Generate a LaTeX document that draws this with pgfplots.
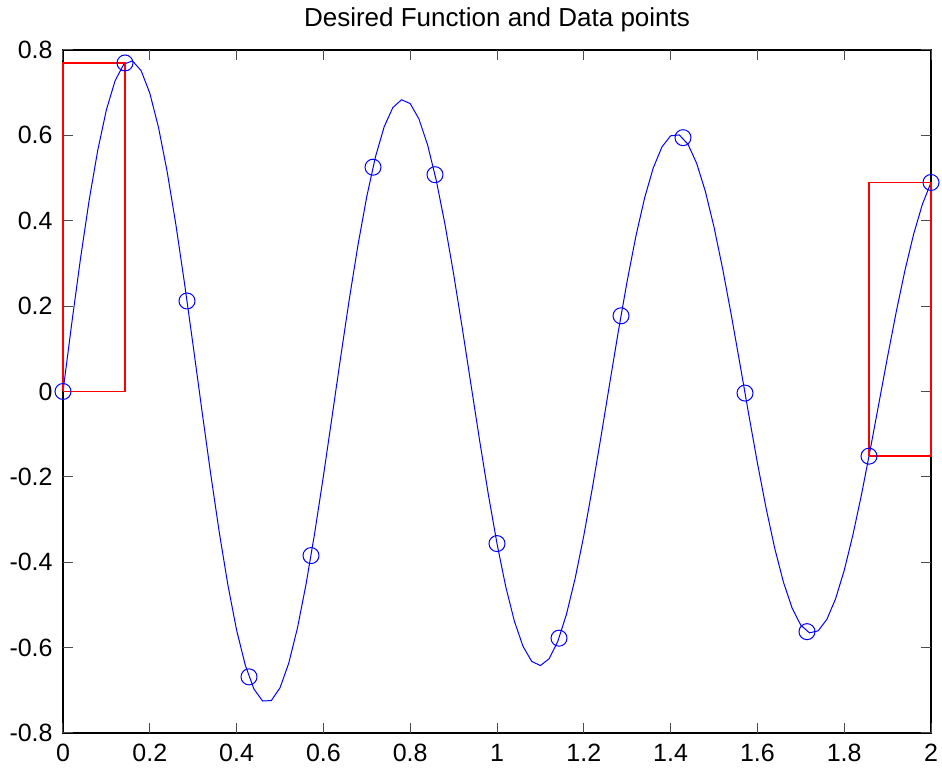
\documentclass[border=0pt]{standalone}
\usepackage{fontspec}
\setmainfont{Liberation Sans}
\usepackage{pgfplots}
\pgfplotsset{compat=1.18}
\begin{document}
\begin{tikzpicture}
\useasboundingbox (-31.5pt,-18.5pt) rectangle (439.5pt,366.5pt);
\draw[black, line width=0.6pt] (0pt,0pt) rectangle (434pt,341.5pt);
\begin{axis}[
  at={(0pt,0pt)}, anchor=south west,
  scale only axis, width=434pt, height=341.5pt,
  xmin=0, xmax=2, ymin=-0.8, ymax=0.8,
  xtick={0,0.2,0.4,0.6,0.8,1,1.2,1.4,1.6,1.8,2},
  xticklabels={0,0.2,0.4,0.6,0.8,1,1.2,1.4,1.6,1.8,2},
  ytick={-0.8,-0.6,-0.4,-0.2,0,0.2,0.4,0.6,0.8},
  yticklabels={-0.8,-0.6,-0.4,-0.2,0,0.2,0.4,0.6,0.8},
  tick align=inside, tick pos=both,
  major tick length=5pt,
  every tick/.style={black!70, line width=0.5pt},
  axis line style={draw=none},
  ticklabel style={font=\fontsize{12.5}{15}\selectfont},
  xticklabel style={anchor=base, yshift=-14.5pt, inner sep=0pt},
  yticklabel style={anchor=east, xshift=-5pt, inner sep=0pt},
  clip=false,
]
\addplot[blue, line width=0.5pt] coordinates {
(0.00,0) (0.02,0.15830) (0.04,0.30905) (0.06,0.44632) (0.08,0.56477) (0.10,0.65985)
(0.12,0.72795) (0.14,0.76659) (0.16,0.77448) (0.18,0.75154) (0.20,0.69891)
(0.22,0.61896) (0.24,0.51505) (0.26,0.39151) (0.28,0.25340) (0.30,0.10632)
(0.32,-0.04380) (0.34,-0.19099) (0.36,-0.32942) (0.38,-0.45367) (0.40,-0.55889)
(0.42,-0.64109) (0.44,-0.69715) (0.46,-0.72509) (0.48,-0.72399) (0.50,-0.69414)
(0.52,-0.63695) (0.54,-0.55493) (0.56,-0.45151) (0.58,-0.33098) (0.60,-0.19826)
(0.62,-0.05872) (0.64,0.08204) (0.66,0.21841) (0.68,0.34503) (0.70,0.45693)
(0.72,0.54978) (0.74,0.62006) (0.76,0.66514) (0.78,0.68345) (0.80,0.67447)
(0.82,0.63875) (0.84,0.57795) (0.86,0.49467) (0.88,0.39242) (0.90,0.27539)
(0.92,0.14835) (0.94,0.01642) (0.96,-0.11510) (0.98,-0.24100) (1.00,-0.35632)
(1.02,-0.45658) (1.04,-0.53789) (1.06,-0.59719) (1.08,-0.63230) (1.10,-0.64201)
(1.12,-0.62614) (1.14,-0.58552) (1.16,-0.52197) (1.18,-0.43819) (1.20,-0.33766)
(1.22,-0.22454) (1.24,-0.10338) (1.26,0.02090) (1.28,0.14338) (1.30,0.25918)
(1.32,0.36376) (1.34,0.45306) (1.36,0.52365) (1.38,0.57287) (1.40,0.59895)
(1.42,0.60103) (1.44,0.57921) (1.46,0.53457) (1.48,0.46904) (1.50,0.38539)
(1.52,0.28711) (1.54,0.17821) (1.56,0.06310) (1.58,-0.05361) (1.60,-0.16725)
(1.62,-0.27335) (1.64,-0.36774) (1.66,-0.44677) (1.68,-0.50742) (1.70,-0.54744)
(1.72,-0.56538) (1.74,-0.56073) (1.76,-0.53384) (1.78,-0.48596) (1.80,-0.41916)
(1.82,-0.33623) (1.84,-0.24062) (1.86,-0.13620) (1.88,-0.02721) (1.90,0.08200)
(1.92,0.18707) (1.94,0.28388) (1.96,0.36867) (1.98,0.43809) (2.00,0.48958)
};
\addplot[blue, only marks, mark=o, mark size=4pt, mark options={line width=0.5pt}] coordinates {
(0,0) (0.142857,0.7696) (0.285714,0.2120) (0.428571,-0.6685) (0.571429,-0.3844)
(0.714286,0.5254) (0.857143,0.5079) (1.0,-0.3563) (1.142857,-0.5779)
(1.285714,0.1773) (1.428571,0.5946) (1.571429,-0.0037) (1.714286,-0.5626)
(1.857143,-0.1515) (2.0,0.4896)
};
\addplot[red, line width=0.7pt] coordinates {
(0,0) (0,0.7696) (0.142857,0.7696) (0.142857,0) (0,0)
};
\addplot[red, line width=0.7pt] coordinates {
(1.857143,-0.1515) (1.857143,0.4896) (2,0.4896) (2,-0.1515) (1.857143,-0.1515)
};
\node[anchor=base, inner sep=0pt, font=\fontsize{13}{15}\selectfont, yshift=11.5pt] at (rel axis cs:0.5,1) {Desired Function and Data points};
\end{axis}
\end{tikzpicture}
\end{document}
